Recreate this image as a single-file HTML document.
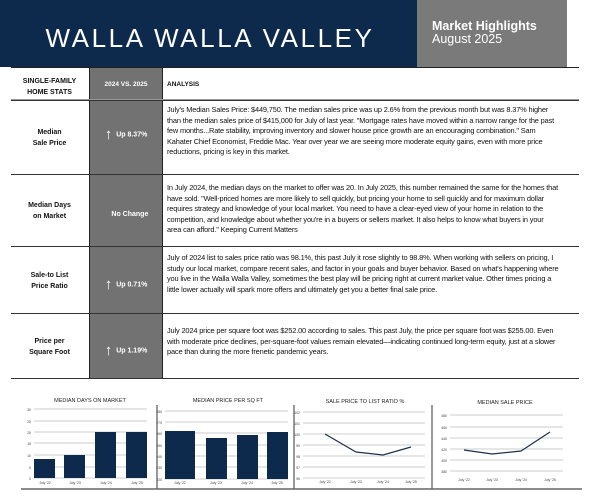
<!DOCTYPE html>
<html><head><meta charset="utf-8"><style>
*{margin:0;padding:0;box-sizing:border-box}
body{width:600px;height:497px;background:#fff;position:relative;overflow:hidden;font-family:"Liberation Sans",sans-serif;color:#111}
.a{position:absolute}
.hl{position:absolute;left:11px;width:568px;height:1px;background:#333}
.stat{position:absolute;left:11px;width:77px;text-align:center;font-weight:bold;font-size:7px;line-height:11px}
.chg{position:absolute;left:89px;width:74px;color:#fff;font-weight:bold;font-size:7px;text-align:center}
.an{position:absolute;left:167px;width:392px;font-size:7.4px;line-height:10.6px;letter-spacing:-0.15px}
.arr{font-size:15px;font-weight:normal;vertical-align:middle;margin-right:4px}
</style></head><body>
<div class="a" style="left:0;top:0;width:417px;height:67px;background:#0d2a4d"></div>
<div class="a" style="left:0;top:22px;width:420px;text-align:center;color:#fff;font-size:26px;letter-spacing:2.6px;line-height:32px;font-weight:300">WALLA WALLA VALLEY</div>
<div class="a" style="left:417px;top:0;width:150px;height:67px;background:#7a7a7a"></div>
<div class="a" style="left:432px;top:20px;color:#fff;font-size:12.5px;line-height:13px"><b>Market Highlights</b><br>August 2025</div>
<div class="a" style="left:11px;top:67px;width:568px;height:1px;background:#222"></div>
<div class="a" style="left:89px;top:68px;width:74px;height:310px;background:#727272;border-left:1px solid #222;border-right:1px solid #222"></div>
<div class="stat" style="top:76px">SINGLE-FAMILY<br>HOME STATS</div>
<div class="chg" style="top:81px;font-size:6.5px">2024 VS. 2025</div>
<div class="a" style="left:167px;top:81px;font-size:6.5px;font-weight:bold">ANALYSIS</div>
<div class="hl" style="top:99px;background:#999"></div>
<div class="hl" style="top:100px"></div>
<div class="hl" style="top:174px"></div>
<div class="hl" style="top:246px"></div>
<div class="hl" style="top:313px"></div>
<div class="hl" style="top:378px"></div>

<div class="stat" style="top:127px">Median<br>Sale Price</div>
<div class="chg" style="top:126px"><span class="arr">↑</span>Up 8.37%</div>
<div class="an" style="top:105px">July's Median Sales Price: $449,750. The median sales price was up 2.6% from the previous month but was 8.37% higher than the median sales price of $415,000 for July of last year. "Mortgage rates have moved within a narrow range for the past few months...Rate stability, improving inventory and slower house price growth are an encouraging combination." Sam Kahater Chief Economist, Freddie Mac. Year over year we are seeing more moderate equity gains, even with more price reductions, pricing is key in this market.</div>

<div class="stat" style="top:200px">Median Days<br>on Market</div>
<div class="chg" style="top:211px">&nbsp;&nbsp;&nbsp;&nbsp;No Change</div>
<div class="an" style="top:183px">In July 2024, the median days on the market to offer was 20. In July 2025, this number remained the same for the homes that have sold. "Well-priced homes are more likely to sell quickly, but pricing your home to sell quickly and for maximum dollar requires strategy and knowledge of your local market. You need to have a clear-eyed view of your home in relation to the competition, and knowledge about whether you're in a buyers or sellers market. It also helps to know what buyers in your area can afford." Keeping Current Matters</div>

<div class="stat" style="top:270px">Sale-to List<br>Price Ratio</div>
<div class="chg" style="top:276px"><span class="arr">↑</span>Up 0.71%</div>
<div class="an" style="top:253px">July of 2024 list to sales price ratio was 98.1%, this past July it rose slightly to 98.8%. When working with sellers on pricing, I study our local market, compare recent sales, and factor in your goals and buyer behavior. Based on what's happening where you live in the Walla Walla Valley, sometimes the best play will be pricing right at current market value. Other times pricing a little lower actually will spark more offers and ultimately get you a better final sale price.</div>

<div class="stat" style="top:336px">Price per<br>Square Foot</div>
<div class="chg" style="top:342px"><span class="arr">↑</span>Up 1.19%</div>
<div class="an" style="top:326px">July 2024 price per square foot was $252.00 according to sales. This past July, the price per square foot was $255.00. Even with moderate price declines, per-square-foot values remain elevated—indicating continued long-term equity, just at a slower pace than during the more frenetic pandemic years.</div>

<svg class="a" style="left:0;top:390px" width="600" height="107" viewBox="0 390 600 107" font-family="Liberation Sans,sans-serif">
<g fill="#222" font-size="5.5" text-anchor="middle">
<text x="90" y="402">MEDIAN DAYS ON MARKET</text>
<text x="228" y="402">MEDIAN PRICE PER SQ FT</text>
<text x="365" y="403">SALE PRICE TO LIST RATIO %</text>
<text x="505" y="404">MEDIAN SALE PRICE</text>
</g>
<g stroke="#333" stroke-width="1"><line x1="157" y1="405" x2="157" y2="489"/><line x1="294" y1="405" x2="294" y2="489"/><line x1="432" y1="405" x2="432" y2="489"/></g>
<line x1="21" y1="489" x2="582" y2="489" stroke="#666" stroke-width="1.5"/>
<g stroke="#ccc" stroke-width="1">
<line x1="34" y1="409" x2="147" y2="409"/><line x1="34" y1="421" x2="147" y2="421"/><line x1="34" y1="432" x2="147" y2="432"/><line x1="34" y1="443" x2="147" y2="443"/><line x1="34" y1="455" x2="147" y2="455"/><line x1="34" y1="467" x2="147" y2="467"/><line x1="34" y1="478" x2="147" y2="478"/>
<line x1="165" y1="411" x2="288" y2="411"/><line x1="165" y1="422" x2="288" y2="422"/><line x1="165" y1="433" x2="288" y2="433"/><line x1="165" y1="445" x2="288" y2="445"/><line x1="165" y1="456" x2="288" y2="456"/><line x1="165" y1="467" x2="288" y2="467"/><line x1="165" y1="479" x2="288" y2="479"/>
<line x1="303" y1="412" x2="425" y2="412"/><line x1="303" y1="423" x2="425" y2="423"/><line x1="303" y1="434" x2="425" y2="434"/><line x1="303" y1="445" x2="425" y2="445"/><line x1="303" y1="456" x2="425" y2="456"/><line x1="303" y1="467" x2="425" y2="467"/><line x1="303" y1="478" x2="425" y2="478"/>
<line x1="450" y1="415" x2="563" y2="415"/><line x1="450" y1="427" x2="563" y2="427"/><line x1="450" y1="438" x2="563" y2="438"/><line x1="450" y1="449" x2="563" y2="449"/><line x1="450" y1="460" x2="563" y2="460"/><line x1="450" y1="471" x2="563" y2="471"/>
</g>
<g fill="#0d2a4d">
<rect x="34" y="459" width="21" height="19"/><rect x="64" y="455" width="21" height="23"/><rect x="95" y="432" width="21" height="46"/><rect x="126" y="432" width="21" height="46"/>
<rect x="165" y="431" width="30" height="48"/><rect x="206" y="438" width="21" height="41"/><rect x="237" y="435" width="21" height="44"/><rect x="267" y="432" width="21" height="47"/>
</g>
<polyline points="325,434 356,452 383,455 411,447" fill="none" stroke="#1c3350" stroke-width="1.2"/>
<polyline points="464,450 492,454 521,451 550,432" fill="none" stroke="#1c3350" stroke-width="1.2"/>
<g fill="#444" font-size="3.5" text-anchor="end">
<text x="31" y="411">30</text><text x="31" y="423">25</text><text x="31" y="434">20</text><text x="31" y="445">15</text><text x="31" y="457">10</text><text x="31" y="469">5</text><text x="31" y="480">0</text>
<text x="162" y="413">280</text><text x="162" y="424">270</text><text x="162" y="435">260</text><text x="162" y="447">250</text><text x="162" y="458">240</text><text x="162" y="469">230</text><text x="162" y="481">220</text>
<text x="300" y="414">102</text><text x="300" y="425">101</text><text x="300" y="436">100</text><text x="300" y="447">99</text><text x="300" y="458">98</text><text x="300" y="469">97</text><text x="300" y="480">96</text>
<text x="447" y="417">480</text><text x="447" y="429">460</text><text x="447" y="440">440</text><text x="447" y="451">420</text><text x="447" y="462">400</text><text x="447" y="473">380</text>
</g>
<g fill="#444" font-size="3.5" text-anchor="middle">
<text x="45" y="484">July '22</text><text x="75" y="484">July '23</text><text x="106" y="484">July '24</text><text x="137" y="484">July '25</text>
<text x="180" y="484">July '22</text><text x="216" y="484">July '23</text><text x="247" y="484">July '24</text><text x="277" y="484">July '25</text>
<text x="325" y="483">July '22</text><text x="356" y="483">July '23</text><text x="383" y="483">July '24</text><text x="411" y="483">July '25</text>
<text x="464" y="481">July '22</text><text x="492" y="481">July '23</text><text x="521" y="481">July '24</text><text x="550" y="481">July '25</text>
</g>
</svg>
</body></html>
